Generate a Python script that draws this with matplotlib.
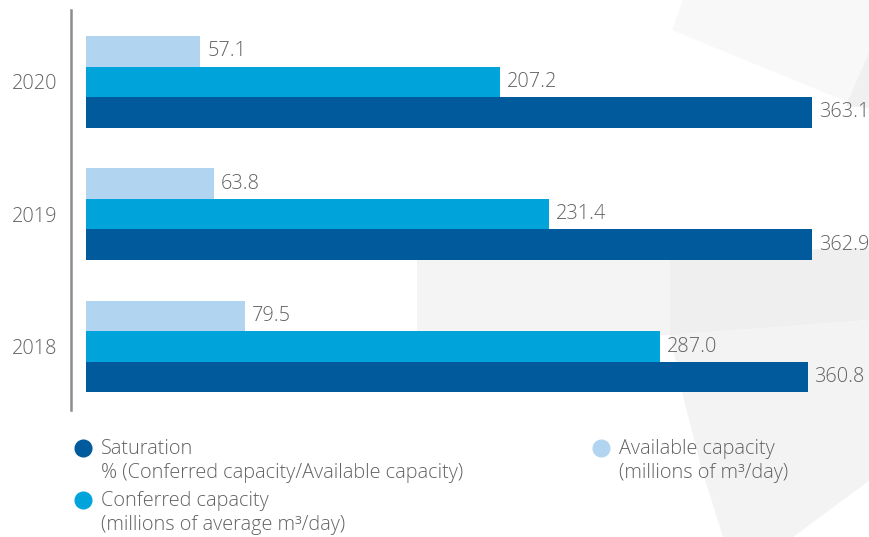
import matplotlib.pyplot as plt
from matplotlib.patches import Polygon

plt.rcParams['font.family'] = ['Open Sans', 'DejaVu Sans']
plt.rcParams['font.weight'] = 'light'

years = ['2020', '2019', '2018']
available = [57.1, 63.8, 79.5]
conferred = [207.2, 231.4, 287.0]
saturation = [363.1, 362.9, 360.8]

legend_labels = [
    ['Saturation', '% (Conferred capacity/Available capacity)'],
    ['Conferred capacity', '(millions of average m³/day)'],
    ['Available capacity', '(millions of m³/day)'],
]

c_avail = '#b1d5f1'
c_conf = '#00a4da'
c_sat = '#005a9c'
text_gray = '#626262'
fs = 14.3

W, H = 870, 537
fig = plt.figure(figsize=(W / 100, H / 100), dpi=100)


def fpt(x, y):
    # pixel position -> figure fraction
    return (x / W, 1 - y / H)


# faint decorative shapes in the background
shapes = [
    ([(683, 0), (870, 0), (870, 50), (850, 103), (672, 30)], '#f8f8f8'),
    ([(870, 50), (870, 108), (846, 106)], '#f0f0f0'),
    ([(417, 258), (670, 253), (670, 335), (417, 345)], '#f4f4f4'),
    ([(670, 253), (870, 248), (870, 320), (670, 335)], '#efefef'),
    ([(670, 335), (870, 320), (870, 480), (793, 537), (723, 537),
      (702, 470), (684, 400)], '#f3f3f3'),
]
for pts, col in shapes:
    fig.add_artist(Polygon([fpt(x, y) for x, y in pts], closed=True,
                           transform=fig.transFigure, facecolor=col,
                           edgecolor='none', zorder=-1))

ax = fig.add_axes([71 / W, (H - 410) / H, (W - 71) / W, 400 / H])
ax.patch.set_alpha(0)

h = 0.2306
pos = list(range(len(years)))
series = [(available, c_avail, -h), (conferred, c_conf, 0), (saturation, c_sat, h)]
for vals, col, off in series:
    yy = [p + off for p in pos]
    ax.barh(yy, vals, height=h, color=col, left=0)
    for y, v in zip(yy, vals):
        ax.annotate(f'{v:.1f}', (v, y), xytext=(5, 0), textcoords='offset points',
                    va='center', ha='left', fontsize=fs, color=text_gray)

ax.set_xlim(-7.5, 392)
ax.set_ylim(2.48, -0.544)
ax.set_yticks(pos)
ax.set_yticklabels(years, fontsize=fs, color=text_gray)
ax.tick_params(axis='y', length=0, pad=10)
ax.set_xticks([])
for s in ['top', 'right', 'bottom']:
    ax.spines[s].set_visible(False)
ax.spines['left'].set_color('#8c8c8c')
ax.spines['left'].set_linewidth(1.8)

# legend drawn by hand: marker + two text lines
legend_pos = [(83, 448), (83, 500), (601, 448)]
for (x, y), lines, col in zip(legend_pos, legend_labels, [c_sat, c_conf, c_avail]):
    fig.add_artist(plt.Line2D([x / W], [1 - y / H], marker='o', markersize=12,
                              color=col, transform=fig.transFigure))
    for i, line in enumerate(lines):
        fx, fy = fpt(x + 18, y + 1 + i * 24)
        fig.text(fx, fy, line, fontsize=fs, color=text_gray, va='center', ha='left')

fig.savefig('out.png', dpi=100)
